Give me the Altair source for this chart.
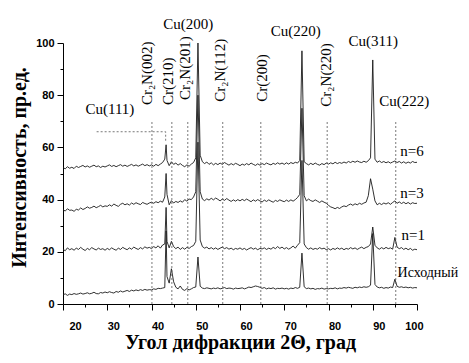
import altair as alt
import pandas as pd

# sampling grid of the diffraction patterns (degrees 2-theta)
X_START = 20.0
X_STEP = 0.5

# "Исходный" pattern
S0 = [3.5,3.9,3.3,3.8,3.6,4.0,3.7,3.9,4.2,3.8,4.0,4.3,3.9,4.1,4.5,4.0,3.9,4.4,4.2,4.6,
      4.3,4.7,4.4,4.2,4.8,4.5,5.0,4.6,4.9,5.2,4.8,5.3,5.0,5.4,5.1,5.5,5.2,5.6,5.3,5.5,
      5.4,5.8,5.6,6.0,5.9,6.1,6.3,10.5,8.0,13.5,8.5,6.4,5.8,6.9,5.6,5.2,5.9,5.4,5.8,6.3,
      6.5,18.0,6.8,6.1,5.9,6.2,6.0,5.8,6.1,5.9,6.2,5.8,6.0,6.3,5.9,6.1,6.0,5.7,6.1,5.9,
      6.0,6.2,5.8,6.1,6.5,6.3,6.6,6.9,6.7,6.4,6.0,6.3,5.8,6.1,5.9,6.2,5.7,6.0,5.9,6.1,
      5.8,6.0,5.7,6.1,5.9,6.3,6.0,6.4,19.5,6.6,5.9,6.1,5.8,6.0,5.6,5.9,5.8,6.1,5.7,5.9,
      5.8,6.0,5.9,6.2,5.8,6.1,6.0,6.3,6.1,6.4,6.2,6.0,6.4,6.2,6.5,6.3,6.6,6.4,6.6,7.2,
      27.0,7.5,6.5,6.2,6.4,6.0,6.3,6.1,6.5,6.3,9.5,6.8,6.4,6.6,6.3,6.5,6.2,6.4,6.1,6.3,
      6.2]

# n=1 pattern
S1 = [21.0,20.4,21.5,20.8,21.2,20.6,21.4,20.9,21.7,21.0,20.5,21.3,20.8,21.6,21.1,20.7,21.4,20.9,21.2,20.6,
      21.3,20.8,21.5,21.0,20.6,21.4,20.9,21.7,21.2,20.8,21.5,21.0,21.8,21.3,20.9,21.6,21.1,21.9,21.4,21.7,
      21.2,22.0,21.5,22.3,21.4,22.6,23.0,24.0,21.5,24.0,22.0,21.2,21.8,20.9,21.6,21.0,21.7,21.3,22.0,22.4,
      24.0,62.0,24.5,22.0,21.4,21.8,21.1,21.6,21.0,21.5,20.9,21.4,21.8,21.2,21.6,21.0,21.4,20.8,21.3,21.0,
      21.5,20.9,21.3,20.7,21.2,21.6,21.0,21.4,20.8,21.3,21.1,21.5,20.9,21.4,21.0,21.7,21.2,22.0,21.3,21.8,
      21.1,21.6,21.0,21.5,22.2,21.4,22.5,23.5,55.0,23.0,21.6,21.0,21.5,20.9,21.3,21.0,21.6,21.1,21.4,20.8,
      21.2,20.7,21.3,20.9,21.5,21.0,21.4,20.8,21.3,21.0,21.6,21.1,21.5,20.9,21.4,21.8,21.2,21.7,22.0,23.0,
      29.5,22.5,21.5,21.0,21.6,21.1,21.7,21.2,21.5,21.0,25.5,21.8,21.2,21.6,20.9,21.4,20.8,21.3,20.6,21.0,
      20.8]

# n=3 pattern
S3 = [36.2,35.6,36.5,35.9,36.0,35.5,36.3,36.0,36.8,36.2,36.6,37.2,36.7,37.0,37.5,36.9,37.3,37.8,37.2,37.6,
      37.4,38.0,37.5,38.3,37.8,37.4,38.2,38.6,38.0,38.4,37.9,38.7,38.2,38.8,38.4,38.1,38.9,38.5,38.2,38.7,
      39.0,38.6,39.2,38.8,39.4,39.0,41.0,42.0,38.0,39.6,38.7,39.3,38.9,39.5,39.0,40.0,39.4,40.2,40.0,41.0,
      43.0,80.0,43.0,40.2,39.6,40.3,39.8,40.5,39.9,40.6,40.1,39.5,40.2,39.7,40.4,39.8,39.3,39.9,39.4,40.0,
      39.5,40.1,39.6,40.2,39.7,39.2,39.9,39.4,40.0,39.5,39.1,39.8,39.3,39.9,39.4,39.0,39.7,39.3,39.9,39.5,
      39.2,39.8,39.3,39.9,39.4,40.0,40.8,42.0,75.0,41.5,39.5,40.2,39.6,39.3,39.9,39.4,38.9,39.5,39.0,38.6,
      37.8,37.2,36.9,36.5,37.0,36.6,37.2,37.6,37.3,37.9,38.3,37.8,38.4,38.0,38.6,38.2,38.7,39.0,41.5,48.0,
      44.0,39.5,38.0,38.6,38.1,38.7,38.3,38.8,38.2,38.9,39.5,38.6,39.1,38.5,39.0,38.4,38.9,38.3,38.8,38.5,
      38.6]

# n=6 pattern
S6 = [52.3,51.8,52.6,52.0,52.4,51.9,52.8,52.3,52.7,53.1,52.5,52.9,52.4,52.8,53.2,52.6,52.9,52.3,52.8,52.5,
      52.9,53.3,52.7,53.1,52.6,53.0,53.4,52.8,53.2,52.7,53.1,53.5,52.9,53.3,52.8,53.2,53.6,53.0,53.4,52.9,
      53.3,52.8,53.5,53.0,53.6,54.2,55.5,55.0,53.0,54.5,53.5,54.0,53.2,53.8,53.1,52.6,53.3,52.8,53.6,54.2,
      56.0,100.0,57.0,54.5,53.8,54.4,53.5,54.1,53.3,53.9,53.4,54.0,53.5,54.2,53.7,53.2,53.8,53.3,53.9,53.5,
      53.0,53.6,53.2,53.8,53.3,54.0,53.5,53.1,53.7,53.2,53.8,53.4,54.0,53.6,53.3,53.9,53.5,54.1,53.6,54.0,
      53.5,54.1,53.6,54.2,53.8,54.3,54.0,55.0,97.0,54.5,53.8,53.3,53.9,53.4,54.0,53.5,53.2,53.8,53.4,54.0,
      53.6,54.1,53.7,54.3,53.8,54.2,53.9,54.4,54.0,54.6,54.2,54.7,54.3,54.8,54.4,54.2,54.7,54.3,54.9,56.0,
      93.5,55.5,54.3,54.8,54.2,54.6,54.1,54.5,54.0,54.4,54.8,54.2,54.6,54.0,54.5,53.9,54.4,54.0,54.6,54.2,
      54.3]

SERIES = ["Исходный", "n=1", "n=3", "n=6"]
SERIES_VALUES = [S0, S1, S3, S6]
# Cu(111) apex of each pattern
CU111_X = 43.3
CU111_Y = [28.0, 37.0, 50.0, 61.0]

# dotted phase markers
LINE_X = [40.1, 44.6, 48.2, 56.1, 64.7, 79.7, 95.2]
LINE_TOP = 70

# rotated phase labels
ROT_TEXT = ["Cr\u2082N(002)", "Cr(210)", "Cr\u2082N(201)", "Cr\u2082N(112)", "Cr(200)", "Cr\u2082N(220)"]
ROT_X = [40.2, 44.9, 48.6, 56.5, 66.1, 80.6]
ROT_Y = [76.2, 76.2, 78.2, 77.5, 77.5, 75.6]

# Cu reflection labels
CU_TEXT = ["Cu(111)", "Cu(200)", "Cu(220)", "Cu(311)", "Cu(222)"]
CU_X = [30.6, 48.3, 72.6, 90.1, 97.1]
CU_Y = [74.7, 107.3, 104.6, 100.8, 77.8]

# series labels
SER_TEXT = ["n=6", "n=3", "n=1", "Исходный"]
SER_X = [96.2, 96.2, 96.5, 95.6]
SER_Y = [58.6, 42.5, 26.4, 11.9]
SER_SIZE = [15, 15, 15, 14]

# Cu(111) leader line
LEAD_X = [27.6, 43.2, 43.2]
LEAD_Y = [66.0, 66.0, 62.0]

rows = []
for name, vals, apex in zip(SERIES, SERIES_VALUES, CU111_Y):
    pts = [(X_START + X_STEP * i, v) for i, v in enumerate(vals)]
    pts.append((CU111_X, apex))
    pts.sort()
    for k, (x, y) in enumerate(pts):
        rows.append({"x": x, "y": y, "s": name, "o": k})
curves = pd.DataFrame(rows)

rules = pd.DataFrame({"x": LINE_X, "y0": [0] * len(LINE_X), "y1": [LINE_TOP] * len(LINE_X)})
rot = pd.DataFrame({"x": ROT_X, "y": ROT_Y, "t": ROT_TEXT})
cu = pd.DataFrame({"x": CU_X, "y": CU_Y, "t": CU_TEXT})
ser = pd.DataFrame({"x": SER_X, "y": SER_Y, "t": SER_TEXT, "fs": SER_SIZE})
lead = pd.DataFrame({"x": LEAD_X, "y": LEAD_Y, "o": list(range(len(LEAD_X)))})

xs = alt.Scale(domain=[20, 100], nice=False)
ys = alt.Scale(domain=[0, 100], nice=False)

SANS = "Liberation Sans"
SERIF = "Liberation Serif"

main = alt.Chart(curves).mark_line(color="#1a1a1a", strokeWidth=0.9).encode(
    x=alt.X("x:Q", scale=xs, axis=alt.Axis(
        values=list(range(20, 101, 10)), orient="bottom", title="Угол дифракции 2Θ, град",
        tickSize=6, labelPadding=10, labelOffset=6, titlePadding=1, titleFontSize=20)),
    y=alt.Y("y:Q", scale=ys, axis=alt.Axis(
        values=list(range(0, 101, 20)), orient="left", title="Интенсивность, пр.ед.",
        tickSize=6, labelPadding=3, titlePadding=6, titleFontSize=20, titleY=124)),
    detail="s:N",
    order="o:Q",
)

minor = alt.Chart(rules).mark_rule(color="#555555", strokeWidth=0.8, strokeDash=[2, 2]).encode(
    x=alt.X("x:Q", scale=xs, axis=alt.Axis(
        values=list(range(25, 100, 10)), orient="bottom", tickSize=3, labels=False,
        domain=False, title=None)),
    y=alt.Y("y0:Q", scale=ys, axis=alt.Axis(
        values=list(range(10, 100, 20)), orient="left", tickSize=3, labels=False,
        domain=False, title=None)),
    y2="y1:Q",
)

leader = alt.Chart(lead).mark_line(color="#555555", strokeWidth=0.8, strokeDash=[2, 2]).encode(
    x=alt.X("x:Q", scale=xs, axis=None),
    y=alt.Y("y:Q", scale=ys, axis=None),
    order="o:Q",
)

rot_text = alt.Chart(rot).mark_text(
    angle=270, align="left", baseline="alphabetic", font=SERIF, fontSize=15, color="black"
).encode(
    x=alt.X("x:Q", scale=xs, axis=None),
    y=alt.Y("y:Q", scale=ys, axis=None),
    text="t:N",
)

cu_text = alt.Chart(cu).mark_text(
    align="center", baseline="middle", font=SERIF, fontSize=15, color="black"
).encode(
    x=alt.X("x:Q", scale=xs, axis=None),
    y=alt.Y("y:Q", scale=ys, axis=None),
    text="t:N",
)

ser_text = alt.Chart(ser).mark_text(
    align="left", baseline="middle", font=SERIF, color="black"
).encode(
    x=alt.X("x:Q", scale=xs, axis=None),
    y=alt.Y("y:Q", scale=ys, axis=None),
    text="t:N",
    size=alt.Size("fs:Q", scale=None, legend=None),
)

chart = alt.layer(main, minor, leader, rot_text, cu_text, ser_text).resolve_axis(
    x="independent", y="independent"
).properties(
    width=354, height=261,
    autosize=alt.AutoSizeParams(type="none"),
    padding={"left": 55, "top": 35, "right": 44, "bottom": 51},
).configure_view(stroke=None).configure_axis(
    grid=False,
    domainColor="black", domainWidth=1,
    tickColor="black", tickWidth=1,
    labelFont=SANS, labelFontWeight="bold", labelFontSize=11, labelColor="black",
    titleFont=SERIF, titleFontWeight="bold", titleColor="black",
)

chart.save("out.html", embed_options={"renderer": "svg", "actions": False})
